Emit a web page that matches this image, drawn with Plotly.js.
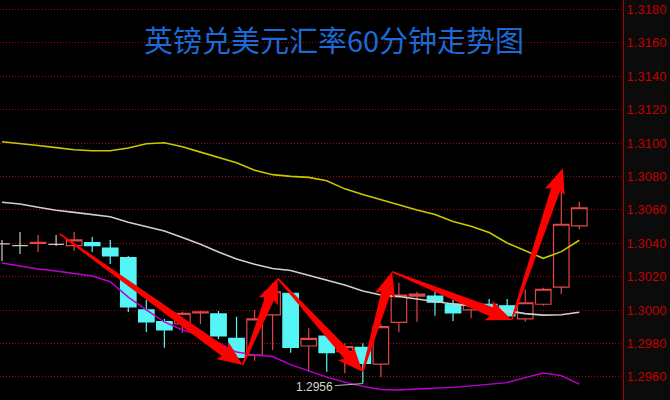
<!DOCTYPE html>
<html><head><meta charset="utf-8">
<script src="https://cdn.plot.ly/plotly-3.0.1.min.js"></script>
<style>html,body{margin:0;padding:0;background:#0b0b0b;}#chart{width:670px;height:400px;}</style>
</head><body><div id="chart"></div>
<script>
// ---- data ----
const bars  = [0,1,2,3,4,5,6,7,8,9,10,11,12,13,14,15,16,17,18,19,20,21,22,23,24,25,26,27,28,29,30,31,32];
const openP = [1.30396,1.30386,1.30399,1.30394,1.30386,1.30404,1.30372,1.30314,1.30001,1.29931,1.29917,1.29984,1.29977,1.29831,1.29731,1.29971,1.30101,1.29785,1.29845,1.29751,1.29777,1.29677,1.29927,1.30084,1.30084,1.30035,1.30001,1.30035,1.30026,1.29947,1.30035,1.30137,1.30504];
const highP = [1.30420,1.30468,1.30450,1.30450,1.30469,1.30438,1.30420,1.30324,1.30060,1.29947,1.29990,1.29996,1.29995,1.29960,1.30001,1.30162,1.30114,1.29891,1.29845,1.29801,1.29801,1.29917,1.30164,1.30110,1.30114,1.30060,1.30060,1.30066,1.30066,1.30125,1.30134,1.30749,1.30649];
const lowP  = [1.30294,1.30336,1.30348,1.30384,1.30354,1.30348,1.30276,1.29989,1.29869,1.29775,1.29865,1.29917,1.29827,1.29717,1.29697,1.29761,1.29745,1.29631,1.29631,1.29622,1.29560,1.29598,1.29867,1.29931,1.29966,1.29935,1.29951,1.30001,1.29960,1.29931,1.30026,1.30096,1.30484];
const closeP= [1.30396,1.30386,1.30405,1.30394,1.30420,1.30386,1.30324,1.30019,1.29929,1.29881,1.29981,1.29990,1.29845,1.29717,1.29947,1.30110,1.29777,1.29831,1.29745,1.29781,1.29681,1.29901,1.30090,1.30096,1.30047,1.29984,1.30040,1.30017,1.29966,1.30044,1.30125,1.30514,1.30613];
const maLong  = [1.31008,1.30999,1.30986,1.30973,1.30960,1.30954,1.30954,1.30971,1.30996,1.31002,1.30978,1.30946,1.30915,1.30883,1.30837,1.30811,1.30801,1.30795,1.30775,1.30726,1.30692,1.30661,1.30626,1.30599,1.30572,1.30530,1.30502,1.30465,1.30402,1.30354,1.30310,1.30350,1.30418];
const maMid   = [1.30646,1.30635,1.30616,1.30598,1.30585,1.30574,1.30559,1.30526,1.30499,1.30474,1.30435,1.30394,1.30348,1.30306,1.30274,1.30249,1.30237,1.30207,1.30180,1.30150,1.30114,1.30090,1.30081,1.30068,1.30052,1.30037,1.30026,1.30014,1.29996,1.29979,1.29970,1.29972,1.29987];
const maShort = [1.30282,1.30264,1.30246,1.30234,1.30219,1.30204,1.30170,1.30078,1.30001,1.29929,1.29881,1.29851,1.29803,1.29749,1.29731,1.29722,1.29674,1.29635,1.29599,1.29569,1.29543,1.29525,1.29522,1.29528,1.29531,1.29537,1.29546,1.29554,1.29566,1.29596,1.29623,1.29608,1.29557];
// zig-zag arrows (bar index, price)
const zigIdx   = [3.2, 13.34, 15.28, 19.99, 21.62, 28.25, 31.08];
const zigPrice = [1.30456, 1.29671, 1.30190, 1.29631, 1.30230, 1.29941, 1.30849];
const lowIdx = 20, lowPrice = 1.2956, lowLabel = '1.2956';
const titleText = '英镑兑美元汇率60分钟走势图';

// ---- layout constants ----
const W = 670, H = 400, ML = 0, MR = 47;
const PW = W - ML - MR, PH = H;
const xr = [-0.11, 34.42];
const yr = [1.294617, 1.318569];
const UP = '#e24646', DOWN = '#55f5f5', FLAT = '#c8c8c8';

const norm = {x:[],o:[],h:[],l:[],c:[]}, flat = {x:[],o:[],h:[],l:[],c:[]};
bars.forEach((b,i)=>{
  const t = openP[i]===closeP[i] ? flat : norm;
  t.x.push(b); t.o.push(openP[i]); t.h.push(highP[i]); t.l.push(lowP[i]); t.c.push(closeP[i]);
});

const traces = [
  {type:'candlestick', x:norm.x, open:norm.o, high:norm.h, low:norm.l, close:norm.c,
   increasing:{line:{color:UP,width:1.2}, fillcolor:'#000000'},
   decreasing:{line:{color:DOWN,width:1.2}, fillcolor:DOWN},
   whiskerwidth:0, hoverinfo:'skip', showlegend:false},
  {type:'candlestick', x:flat.x, open:flat.o, high:flat.h, low:flat.l, close:flat.c,
   increasing:{line:{color:FLAT,width:1.2}, fillcolor:FLAT},
   decreasing:{line:{color:FLAT,width:1.2}, fillcolor:FLAT},
   whiskerwidth:0, hoverinfo:'skip', showlegend:false},
  {type:'scatter', mode:'lines', x:bars, y:maLong, line:{color:'#c8c800', width:1.6}, hoverinfo:'skip', showlegend:false},
  {type:'scatter', mode:'lines', x:bars, y:maMid, line:{color:'#d0d0d0', width:1.6}, hoverinfo:'skip', showlegend:false},
  {type:'scatter', mode:'lines', x:bars, y:maShort, line:{color:'#c000d0', width:1.4}, hoverinfo:'skip', showlegend:false}
];

// tapered arrow shapes (pixel offsets around the tip)
const sx = PW/(xr[1]-xr[0]), sy = PH/(yr[1]-yr[0]);
const shapes = [];
for (let k=0;k<zigIdx.length-1;k++){
  const dx = (zigIdx[k+1]-zigIdx[k])*sx, dy = (zigPrice[k+1]-zigPrice[k])*sy;
  const L = Math.hypot(dx,dy), ux = dx/L, uy = dy/L, nx = -uy, ny = ux;
  const hl = 22, hw = 10.5, wn = 4.8, wt = 0.8, back = 3;
  const pt = (a,b)=> a.toFixed(2)+' '+b.toFixed(2);
  const tx=-dx, ty=-dy;
  const neckX=-ux*hl, neckY=-uy*hl, barbX=-ux*(hl+back), barbY=-uy*(hl+back);
  const path = 'M '+pt(tx+nx*wt,ty+ny*wt)+' L '+pt(neckX+nx*wn,neckY+ny*wn)+' L '+pt(barbX+nx*hw,barbY+ny*hw)+
    ' L '+pt(0,0)+' L '+pt(barbX-nx*hw,barbY-ny*hw)+' L '+pt(neckX-nx*wn,neckY-ny*wn)+' L '+pt(tx-nx*wt,ty-ny*wt)+' Z';
  shapes.push({type:'path', xref:'x', yref:'y', xsizemode:'pixel', ysizemode:'pixel',
    xanchor:zigIdx[k+1], yanchor:zigPrice[k+1], path:path, fillcolor:'#ff0000', line:{width:0}, layer:'above'});
}

const layout = {
  width:W, height:H, margin:{l:ML, r:MR, t:0, b:0, pad:0},
  paper_bgcolor:'#0b0b0b', plot_bgcolor:'#000000',
  boxmode:'overlay', boxgap:0.14, boxgroupgap:0, showlegend:false, dragmode:false,
  title:{text:titleText, font:{family:'Noto Sans CJK SC', size:29, color:'#1c6ad6'},
         x:334/W, xanchor:'center', xref:'container', y:1-42/H, yanchor:'middle', yref:'container'},
  xaxis:{range:xr, visible:false, showgrid:false, zeroline:false, rangeslider:{visible:false}, fixedrange:true},
  yaxis:{range:yr, side:'right', showline:true, linecolor:'#b00000', linewidth:1, mirror:false,
         tick0:1.296, dtick:0.002, tickformat:'.4f', ticks:'', showgrid:true, gridcolor:'#b00000', griddash:'1px,2px', gridwidth:1,
         zeroline:false, fixedrange:true, tickfont:{family:'Liberation Sans, Arial', size:13, color:'#c00000'}},
  shapes:shapes,
  annotations:[{x:lowIdx, y:lowPrice, xref:'x', yref:'y', text:lowLabel, showarrow:true, arrowhead:0, arrowwidth:1,
    arrowcolor:'#b8b8b8', ax:-48, ay:3.5, standoff:0, font:{family:'Liberation Sans, Arial', size:12, color:'#d8d8c8'}}]
};
Plotly.newPlot('chart', traces, layout, {staticPlot:true, displayModeBar:false});
</script></body></html>
